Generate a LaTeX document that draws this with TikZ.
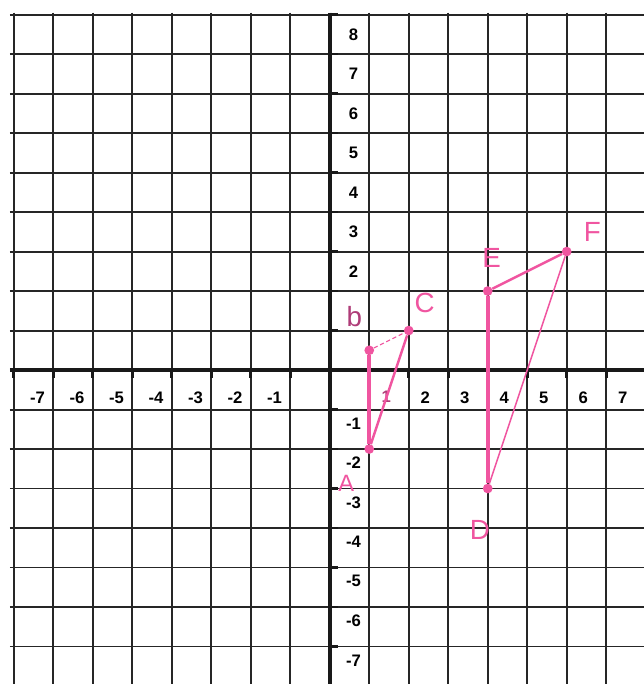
\documentclass[tikz,border=0pt]{standalone}
\usepackage{fontspec}
\setmainfont{Liberation Sans}
\definecolor{ink}{RGB}{240,85,160}
\definecolor{darkink}{RGB}{175,60,120}
\tikzset{
  gridline/.style={line width=1.4pt, black!85},
  axisline/.style={line width=3pt, black!90},
  tickmark/.style={line width=2pt, black!90},
  ticklab/.style={font=\fontsize{12}{14}\selectfont\bfseries, inner sep=0pt},
  penlab/.style={ink, font=\fontsize{20}{22}\selectfont, inner sep=0pt},
  pt/.style={circle, fill=ink, inner sep=0pt, minimum size=7pt},
}
\begin{document}
\begin{tikzpicture}
\useasboundingbox[fill=white] (-8.35,-7.95) rectangle (7.95,9.37);
% grid and axes
\foreach \y in {-7,...,9} \draw[gridline] (-8.1,\y) -- (7.95,\y);
\foreach \x in {-8,...,7} \draw[gridline] (\x,9.05) -- (\x,-7.95);
\draw[axisline] (-8.1,0) -- (7.95,0);
\draw[axisline] (0,9.05) -- (0,-7.95);
\foreach \x in {-8,...,7} \draw[tickmark] (\x,0) -- (\x,-0.2);
\foreach \y in {-7,...,9} \draw[tickmark] (0,\y) -- (0.2,\y);

% numbers on the axes
\foreach \x in {-7,...,-1} \node[ticklab] (xl\x) at (\x-0.4,-0.7) {\x};
\foreach \x in {2,...,7} \node[ticklab] (xl\x) at (\x+0.42,-0.7) {\x};
\node[ticklab, darkink] (xl1) at (1.43,-0.68) {1};
\foreach \y in {2,...,8} \node[ticklab] (yl\y) at (0.6,\y+0.5) {\y};
\foreach \y in {-7,...,-1} \node[ticklab] (yl\y) at (0.6,\y-0.35) {\y};

% first triangle
\node[pt] (A) at (1,-2) {};
\node[pt] (B) at (1,0.5) {};
\node[pt] (C) at (2,1) {};
\draw[ink, line width=2.6pt] (A) -- (B);
\draw[ink, line width=0.8pt, densely dashed] (B) -- (C);
\draw[ink, line width=1.8pt] (C) -- (A);

% second triangle
\node[pt] (D) at (4,-3) {};
\node[pt] (E) at (4,2) {};
\node[pt] (F) at (6,3) {};
\draw[ink, line width=2.6pt] (D) -- (E);
\draw[ink, line width=1.8pt] (E) -- (F);
\draw[ink, line width=1.1pt] (F) -- (D);

% letters
\node[penlab, darkink] (labB) at (0.62,1.35) {b};
\node[penlab] (labC) at (2.4,1.7) {C};
\node[penlab, font=\fontsize{17}{19}\selectfont] (labA) at (0.42,-2.86) {A};
\node[penlab] (labE) at (4.1,2.85) {E};
\node[penlab] (labF) at (6.65,3.5) {F};
\node[penlab] (labD) at (3.8,-4.05) {D};
\end{tikzpicture}
\end{document}
